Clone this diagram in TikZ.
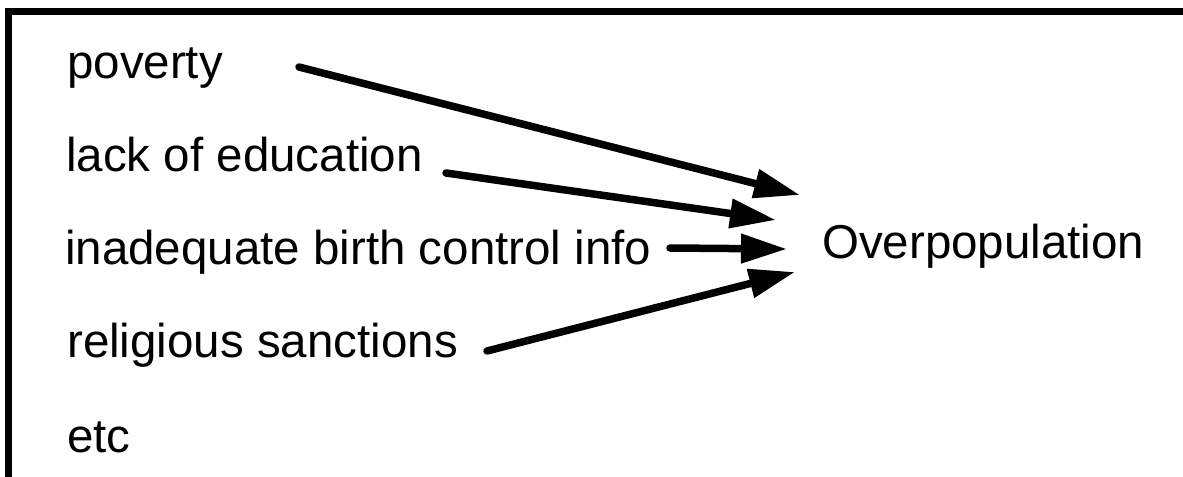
\documentclass[tikz,border=0pt]{standalone}
\usepackage{fontspec}
\setmainfont{Liberation Sans}
\usetikzlibrary{arrows.meta}
\begin{document}
\begin{tikzpicture}[x=1bp,y=-1bp,
  lbl/.style={inner sep=0pt, anchor=base west, font=\fontsize{47.5bp}{57bp}\selectfont},
  cause/.style={line width=7.5bp, line cap=round, -{Triangle[length=46bp,width=28bp]}},
  frameline/.style={line width=7bp}]
\useasboundingbox (0,0) rectangle (1183,477);
% frame (top and left edges)
\draw[frameline] (8.5,477) -- (8.5,12) -- (1183,12);
% labels
\node[lbl] (poverty) at (67,79) {poverty};
\node[lbl] (educ) at (66,172) {lack of education};
\node[lbl] (birth) at (65,265) {inadequate birth control info};
\node[lbl] (relig) at (67,358) {religious sanctions};
\node[lbl] (etc) at (67,452) {etc};
\node[lbl] (over) at (822,259) {Overpopulation};
% arrow end points
\coordinate (s1) at (299,67);
\coordinate (t1) at (800,195);
\coordinate (s2) at (446,173);
\coordinate (t2) at (776,220);
\coordinate (s3) at (670,248);
\coordinate (t3) at (787,249);
\coordinate (s4) at (487,351);
\coordinate (t4) at (795,272);
\draw[cause] (s1) -- (t1);
\draw[cause] (s2) -- (t2);
\draw[cause] (s3) -- (t3);
\draw[cause] (s4) -- (t4);
\end{tikzpicture}
\end{document}
